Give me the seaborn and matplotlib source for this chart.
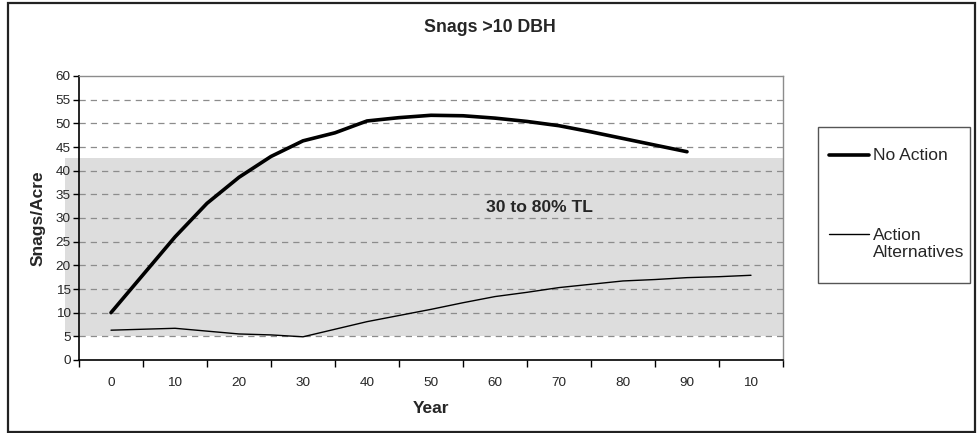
import pandas as pd
import matplotlib
matplotlib.use('Agg')
import matplotlib.pyplot as plt
import matplotlib.patches as mpatches
import seaborn as sns

years = [0, 5, 10, 15, 20, 25, 30, 35, 40, 45, 50, 55, 60, 65, 70, 75, 80, 85, 90, 95, 100]
no_action = [10.0, 18.0, 26.0, 33.1, 38.6, 43.0, 46.3, 48.0, 50.5, 51.2, 51.7, 51.6, 51.1, 50.4,
             49.5, 48.2, 46.8, 45.4, 44.0]
action_alt = [6.3, 6.5, 6.7, 6.1, 5.5, 5.3, 4.9, 6.5, 8.1, 9.4, 10.7, 12.1, 13.4, 14.3,
              15.3, 16.0, 16.7, 17.0, 17.4, 17.6, 17.9]
year_labels = ['0', '10', '20', '30', '40', '50', '60', '70', '80', '90', '10']
band_low, band_high = 5, 42.7

sns.set_style('white')
plt.rcParams['font.family'] = ['Liberation Sans', 'DejaVu Sans']

df = pd.concat([
    pd.DataFrame({'pos': [y / 10 for y in years[:len(no_action)]], 'val': no_action, 'series': 'No Action'}),
    pd.DataFrame({'pos': [y / 10 for y in years], 'val': action_alt, 'series': 'Action\nAlternatives'}),
])

fig = plt.figure(figsize=(9.79, 4.33), dpi=100)
ax = fig.add_axes([79 / 979, 73 / 433, 704 / 979, 284 / 433])

sns.lineplot(data=df, x='pos', y='val', hue='series', size='series',
             sizes={'No Action': 2.6, 'Action\nAlternatives': 1.0},
             palette={'No Action': 'black', 'Action\nAlternatives': 'black'},
             ax=ax, legend=False, zorder=3)

ax.axhspan(band_low, band_high, xmin=-0.02, xmax=1, color='#dddddd', zorder=0.2, clip_on=False, lw=0)
for v in range(5, 60, 5):
    ax.axhline(v, color='#8c8c8c', lw=0.9, ls=(0, (5, 4)), zorder=0.6)

ax.set_xlim(-0.5, 10.5)
ax.set_ylim(0, 60)
ax.set_yticks(range(0, 61, 5))
ax.set_xticks(range(11))
ax.set_xticklabels(year_labels)
ax.set_xticks([i - 0.5 for i in range(12)], minor=True)
ax.tick_params(axis='x', which='major', length=0, pad=12, labelsize=9.7)
ax.tick_params(axis='x', which='minor', length=5, width=1, direction='out', color='black')
ax.tick_params(axis='y', which='major', length=4, width=1, direction='out', labelsize=9.7, pad=2, color='black')
ax.xaxis.set_tick_params(bottom=True, which='minor')
ax.yaxis.set_tick_params(left=True)

for s in ['left', 'bottom']:
    ax.spines[s].set_color('black')
    ax.spines[s].set_linewidth(1.2)
for s in ['top', 'right']:
    ax.spines[s].set_color('#8c8c8c')
    ax.spines[s].set_linewidth(1.0)

ax.set_xlabel('Year', fontsize=12.5, fontweight='bold', labelpad=9)
ax.set_ylabel('Snags/Acre', fontsize=12.5, fontweight='bold', labelpad=7)
ax.text(6.69, 32.3, '30 to 80% TL', fontsize=12.6, fontweight='bold', ha='center', va='center', zorder=4)

fig.text(490 / 979, 1 - 28 / 433, 'Snags >10 DBH', fontsize=12.8, fontweight='bold', ha='center', va='center')

# outer chart border and legend box
fig.patches.append(mpatches.Rectangle((8 / 979, 1.5 / 433), 967 / 979, 428.5 / 433,
                                      transform=fig.transFigure, fill=False, ec='#222222', lw=1.6))
fig.patches.append(mpatches.Rectangle((818 / 979, 1 - 283 / 433), 152 / 979, 156 / 433,
                                      transform=fig.transFigure, fill=False, ec='#555555', lw=1.0))

fig.add_artist(plt.Line2D([829 / 979, 869 / 979], [1 - 155 / 433] * 2, color='black', lw=2.6))
fig.text(873 / 979, 1 - 155 / 433, 'No Action', fontsize=12.6, va='center', ha='left')
fig.add_artist(plt.Line2D([829 / 979, 869 / 979], [1 - 234 / 433] * 2, color='black', lw=1.0))
fig.text(873 / 979, 1 - 244 / 433, 'Action\nAlternatives', fontsize=12.6, va='center', ha='left',
         linespacing=1.2)

fig.savefig('out.png', dpi=100)
